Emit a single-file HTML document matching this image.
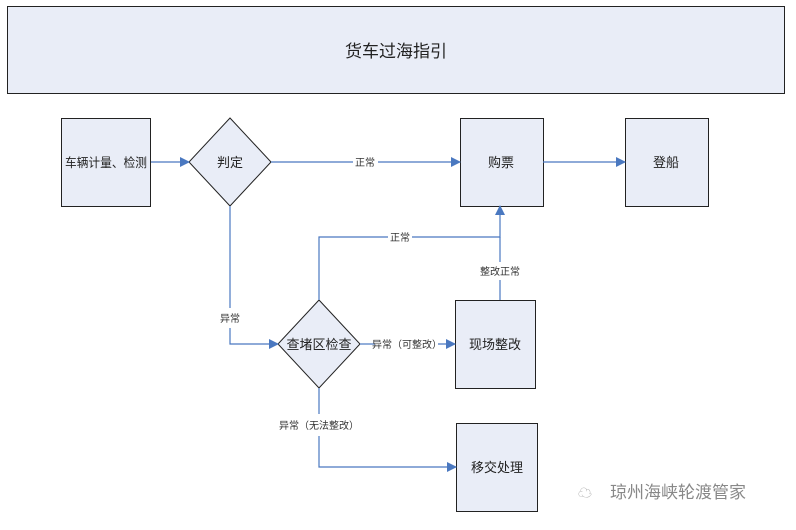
<!DOCTYPE html>
<html><head><meta charset="utf-8"><style>
body{margin:0;background:#fff;}
svg text{font-family:"Liberation Sans","Noto Sans CJK SC",sans-serif;}
</style></head><body>
<svg width="796" height="525" viewBox="0 0 796 525" xmlns="http://www.w3.org/2000/svg">
<defs><marker id="a" markerWidth="10" markerHeight="10" refX="9" refY="5" orient="auto" markerUnits="userSpaceOnUse"><path d="M0,0 L10,5 L0,10 z" fill="#4a78c0"/></marker></defs>
<rect width="796" height="525" fill="#fff"/>
<rect x="7.5" y="6.5" width="777" height="87" fill="#e9edf7" stroke="#222"/>
<text x="396" y="57" font-size="17" text-anchor="middle" fill="#222">货车过海指引</text>
<g fill="#e9edf7" stroke="#222">
<rect x="61.5" y="118.5" width="89" height="88"/>
<rect x="460.5" y="118.5" width="83" height="88"/>
<rect x="625.5" y="118.5" width="83" height="88"/>
<rect x="455.5" y="300.5" width="80" height="88"/>
<rect x="456.5" y="423.5" width="81" height="88"/>
<polygon points="230,118 271,162 230,206 189,162"/>
<polygon points="319,300 360,344 319,388 278,344"/>
</g>
<g stroke="#4a78c0" stroke-width="1.2" fill="none">
<line x1="151" y1="162" x2="189" y2="162" marker-end="url(#a)"/>
<line x1="271" y1="162" x2="353" y2="162"/><line x1="378" y1="162" x2="460" y2="162" marker-end="url(#a)"/>
<line x1="543" y1="162" x2="625" y2="162" marker-end="url(#a)"/>
<polyline points="230,206 230,308"/><polyline points="230,328 230,344 278,344" marker-end="url(#a)"/>
<polyline points="319,300 319,237 388,237"/><polyline points="412,237 500,237 500,206" marker-end="url(#a)"/>
<line x1="500" y1="300" x2="500" y2="280"/><line x1="500" y1="262" x2="500" y2="237"/>
<line x1="360" y1="344" x2="375" y2="344"/><line x1="438" y1="344" x2="455" y2="344" marker-end="url(#a)"/>
<line x1="319" y1="388" x2="319" y2="414"/><polyline points="319,436 319,467 456,467" marker-end="url(#a)"/>
</g>
<g font-size="13" fill="#222" text-anchor="middle">
<text x="106" y="167" font-size="12.5" textLength="82" lengthAdjust="spacingAndGlyphs">车辆计量、检测</text>
<text x="230" y="167">判定</text>
<text x="501" y="167">购票</text>
<text x="666" y="167">登船</text>
<text x="319" y="349">查堵区检查</text>
<text x="495" y="349">现场整改</text>
<text x="497" y="472">移交处理</text>
</g>
<g font-size="10" fill="#333" text-anchor="middle">
<text x="365" y="166">正常</text>
<text x="400" y="241">正常</text>
<text x="500" y="275">整改正常</text>
<text x="230" y="322">异常</text>
<text x="407" y="348">异常（可整改）</text>
<text x="319" y="429">异常（无法整改）</text>
</g>
<text x="578" y="498" font-size="14" fill="#aaa">☁</text>
<text x="610" y="498" font-size="17" fill="#888">琼州海峡轮渡管家</text>
</svg>
</body></html>
